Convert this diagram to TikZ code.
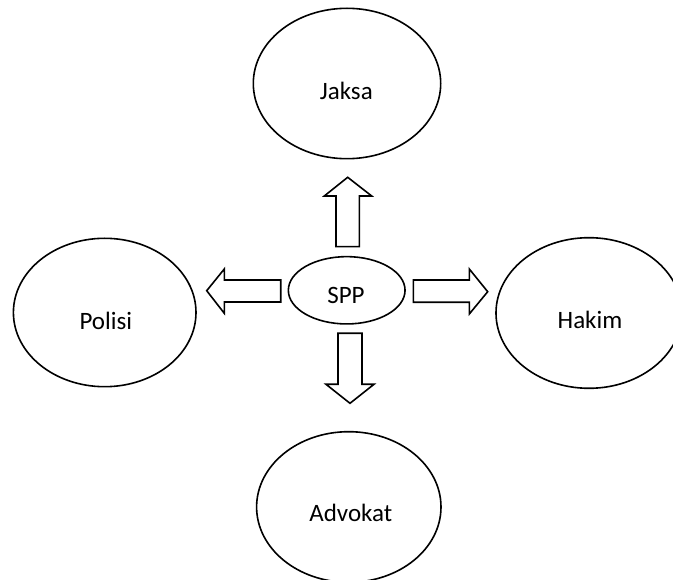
\documentclass[tikz,border=0pt]{standalone}
\usepackage{fontspec}
\setmainfont{Carlito}
\usetikzlibrary{shapes.geometric}
\begin{document}
\begin{tikzpicture}[x=1pt,y=-1pt,
  oval/.style={draw=black,line width=1.6pt,ellipse,inner sep=0pt},
  lbl/.style={anchor=base,inner sep=0pt,font=\fontsize{25}{30}\selectfont},
  blockarrow/.style={draw=black,line width=1.6pt,line join=miter,fill=white}]
\useasboundingbox (0,0) rectangle (673,580);
\clip (0,0) rectangle (673,580);
% ellipses
\node[oval,minimum width=187.4pt,minimum height=150.4pt] (jaksa) at (347,83.5) {};
\node[oval,minimum width=182.6pt,minimum height=148.4pt] (polisi) at (104.7,312.5) {};
\node[oval,minimum width=186pt,minimum height=150.6pt] (hakim) at (589,313) {};
\node[oval,minimum width=184.4pt,minimum height=150.6pt] (advokat) at (348.8,507) {};
\node[oval,minimum width=116.7pt,minimum height=67.3pt] (spp) at (346.7,290.3) {};
% labels
\node[lbl] (tjaksa) at (346.3,100) {Jaksa};
\node[lbl] (tpolisi) at (105.8,330) {Polisi};
\node[lbl] (thakim) at (590,328.3) {Hakim};
\node[lbl] (tadvokat) at (350.8,521.7) {Advokat};
\node[lbl] (tspp) at (346,303.3) {SPP};
% block arrows
\draw[blockarrow] (336,246.7) -- (336,196) -- (324.3,196) -- (347.7,177.3) -- (371.7,196) -- (359.3,196) -- (359.3,246.7) -- cycle;
\draw[blockarrow] (280.7,280) -- (224.3,280) -- (224.3,269) -- (206.7,290.7) -- (224.3,313.3) -- (224.3,302) -- (280.7,302) -- cycle;
\draw[blockarrow] (413.3,280) -- (469.3,280) -- (469.3,269) -- (487.7,291.7) -- (469.3,314) -- (469.3,302.3) -- (413.3,302.3) -- cycle;
\draw[blockarrow] (338,333.3) -- (338,384.3) -- (326,384.3) -- (350,403.3) -- (374,384.3) -- (362,384.3) -- (362,333.3) -- cycle;
\end{tikzpicture}
\end{document}
